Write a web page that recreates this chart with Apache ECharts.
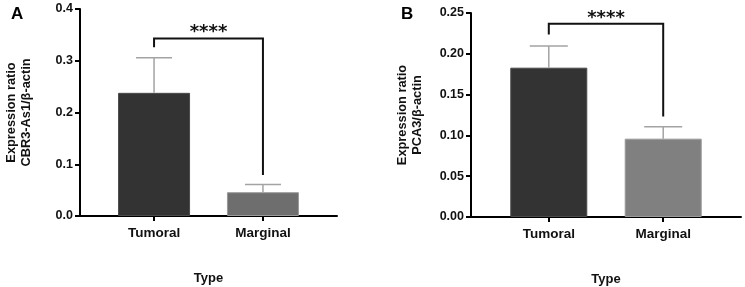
<!DOCTYPE html>
<html>
<head>
<meta charset="utf-8">
<script src="https://cdn.jsdelivr.net/npm/echarts@6/dist/echarts.min.js"></script>
<style>
  html, body { margin: 0; padding: 0; background: #fff; }
  #chart { width: 745px; height: 287px; }
</style>
</head>
<body>
<div id="chart"></div>
<script>
const categories = ['Tumoral', 'Marginal']
const catPos = [0, 1]

// panel A: CBR3-As1
const meanA = [0.238, 0.046]
const errTopA = [0.306, 0.061]
// bracket: left leg bottom, bar top, right leg bottom
const bracketA = [0.326, 0.343, 0.079]

// panel B: PCA3
const meanB = [0.183, 0.096]
const errTopB = [0.2097, 0.1106]
const bracketB = [0.2236, 0.2367, 0.1232]

const barColors = ['#333333', '#6e6e6e']
const barColorsB = ['#333333', '#808080']
const font = 'Liberation Sans'

function xAxisFor(idx) {
    return {
        type: 'value',
        gridIndex: idx,
        min: -0.68,
        max: 1.68,
        name: 'Type',
        nameLocation: 'middle',
        nameGap: 56,
        nameTextStyle: { fontFamily: font, fontWeight: 'bold', fontSize: 13, color: '#111' },
        axisLine: { show: true, lineStyle: { color: '#000', width: 2 } },
        axisTick: { show: true, customValues: catPos, length: 5, lineStyle: { color: '#000', width: 2 } },
        axisLabel: {
            customValues: catPos,
            formatter: v => categories[Math.round(v)],
            fontFamily: font, fontWeight: 'bold', fontSize: 13.5, color: '#111', margin: 10
        },
        splitLine: { show: false }
    }
}

function yAxisFor(idx, max, interval, digits, title) {
    return {
        type: 'value',
        gridIndex: idx,
        min: 0,
        max: max,
        interval: interval,
        name: title,
        nameLocation: 'middle',
        nameRotate: 90,
        nameGap: 46,
        nameTextStyle: { fontFamily: font, fontWeight: 'bold', fontSize: 12.8, color: '#111', lineHeight: 15 },
        axisLine: { show: true, onZero: false, lineStyle: { color: '#000', width: 2 } },
        axisTick: { show: true, length: 5, lineStyle: { color: '#000', width: 2 } },
        axisLabel: {
            formatter: v => v.toFixed(digits),
            fontFamily: font, fontWeight: 'bold', fontSize: 12.5, color: '#111', margin: 7
        },
        splitLine: { show: false }
    }
}

function barSeries(idx, means, colors, width) {
    return {
        type: 'bar',
        xAxisIndex: idx,
        yAxisIndex: idx,
        barWidth: width,
        data: means.map((m, i) => ({
            value: [catPos[i], m],
            itemStyle: { color: colors[i], borderColor: i === 0 ? '#4a4a4a' : '#9a9a9a', borderWidth: 1 }
        })),
        z: 2
    }
}

function errorSeries(idx, means, tops, capHalf) {
    return {
        type: 'custom',
        xAxisIndex: idx,
        yAxisIndex: idx,
        data: means.map((m, i) => [catPos[i], m, tops[i]]),
        renderItem: (params, api) => {
            const base = api.coord([api.value(0), api.value(1)])
            const top = api.coord([api.value(0), api.value(2)])
            const style = { stroke: '#a3a3a3', lineWidth: 1.5 }
            return {
                type: 'group',
                children: [
                    { type: 'line', shape: { x1: base[0], y1: base[1], x2: top[0], y2: top[1] }, style },
                    { type: 'line', shape: { x1: top[0] - capHalf, y1: top[1], x2: top[0] + capHalf, y2: top[1] }, style }
                ]
            }
        },
        z: 3
    }
}

function bracketSeries(idx, br) {
    return {
        type: 'custom',
        xAxisIndex: idx,
        yAxisIndex: idx,
        data: [[catPos[0], catPos[1], br[0], br[1], br[2]]],
        renderItem: (params, api) => {
            const p1 = api.coord([api.value(0), api.value(2)])
            const p2 = api.coord([api.value(0), api.value(3)])
            const p3 = api.coord([api.value(1), api.value(3)])
            const p4 = api.coord([api.value(1), api.value(4)])
            return {
                type: 'group',
                children: [
                    {
                        type: 'polyline',
                        shape: { points: [p1, p2, p3, p4] },
                        style: { stroke: '#111', lineWidth: 2, fill: null }
                    },
                    {
                        type: 'text',
                        x: (p2[0] + p3[0]) / 2,
                        y: p2[1] - 6,
                        style: {
                            text: '****', fontFamily: 'DejaVu Sans', fontWeight: 'bold', fontSize: 18,
                            fill: '#111', align: 'center', verticalAlign: 'middle'
                        }
                    }
                ]
            }
        },
        z: 4
    }
}

const chart = echarts.init(document.getElementById('chart'), null, { renderer: 'canvas' })
chart.setOption({
    animation: false,
    backgroundColor: '#fff',
    title: [
        { text: 'A', left: 6, top: 1, textStyle: { fontFamily: font, fontWeight: 'bold', fontSize: 17, color: '#000' } },
        { text: 'B', left: 396, top: 1, textStyle: { fontFamily: font, fontWeight: 'bold', fontSize: 17, color: '#000' } }
    ],
    grid: [
        { left: 80, width: 257, top: 9, bottom: 71, outerBoundsMode: 'none' },
        { left: 471, width: 270, top: 13, bottom: 70, outerBoundsMode: 'none' }
    ],
    xAxis: [xAxisFor(0), xAxisFor(1)],
    yAxis: [
        yAxisFor(0, 0.4, 0.1, 1, 'Expression ratio\nCBR3-As1/β-actin'),
        yAxisFor(1, 0.25, 0.05, 2, 'Expression ratio\nPCA3/β-actin')
    ],
    series: [
        barSeries(0, meanA, barColors, 72),
        errorSeries(0, meanA, errTopA, 18),
        bracketSeries(0, bracketA),
        barSeries(1, meanB, barColorsB, 77),
        errorSeries(1, meanB, errTopB, 19),
        bracketSeries(1, bracketB)
    ]
})
</script>
</body>
</html>
